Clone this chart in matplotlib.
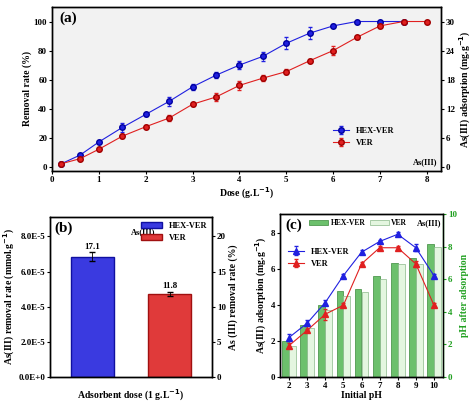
import matplotlib
matplotlib.use("Agg")
import matplotlib.pyplot as plt
import numpy as np

plt.rcParams['font.family'] = ['Liberation Serif', 'DejaVu Serif']
plt.rcParams['font.weight'] = 'bold'
plt.rcParams['axes.labelweight'] = 'bold'
plt.rcParams['font.size'] = 7
plt.rcParams['axes.linewidth'] = 1.0

dose = [0.2, 0.6, 1, 1.5, 2, 2.5, 3, 3.5, 4, 4.5, 5, 5.5, 6, 6.5, 7, 7.5]
hex_rr = [2, 8, 17, 27, 36, 45, 55, 63, 70, 76, 85, 92, 97, 100, 100, 100]
hex_err = [1, 1, 1, 3, 1, 3, 2, 2, 3, 3, 4, 4, 1, 0.5, 0.5, 0.5]
dose_v = [0.2, 0.6, 1, 1.5, 2, 2.5, 3, 3.5, 4, 4.5, 5, 5.5, 6, 6.5, 7, 7.5, 8]
ver_rr = [2, 5.5, 12, 21, 27.5, 33.5, 43, 48, 56, 61, 65.5, 73, 80, 89, 97, 100, 100]
ver_err = [1, 1, 1, 1.5, 1, 2, 1, 3, 3, 2, 2, 1, 3, 1, 1, 0.5, 0.5]

b_labels = ['HEX-VER', 'VER']
b_vals = [6.84e-5, 4.72e-5]
b_err = [0.25e-5, 0.12e-5]
b_pct = ['17.1', '11.8']

ph = [2, 3, 4, 5, 6, 7, 8, 9, 10]
hex_ads = [2.2, 3.0, 4.15, 5.65, 6.95, 7.55, 7.95, 7.2, 5.65]
hex_ads_err = [0.2, 0.15, 0.15, 0.1, 0.1, 0.1, 0.1, 0.2, 0.1]
ver_ads = [1.75, 2.6, 3.5, 4.0, 6.3, 7.2, 7.2, 6.3, 4.0]
ver_ads_err = [0.15, 0.1, 0.3, 0.1, 0.1, 0.1, 0.1, 0.15, 0.1]
hex_ph = [2.2, 3.2, 4.4, 5.3, 5.4, 6.2, 7.0, 7.3, 8.15]
ver_ph = [1.9, 3.0, 4.1, 5.0, 5.2, 6.0, 6.95, 6.95, 7.95]

fig = plt.figure(figsize=(4.74, 4.07), dpi=100)
W, H = 474, 407
def ax_at(x0, y0, x1, y1):
    return fig.add_axes([x0 / W, 1 - y1 / H, (x1 - x0) / W, (y1 - y0) / H])

# Panel a
a = ax_at(52, 7, 441, 171)
a.set_facecolor('#f2f2f2')
a.errorbar(dose, hex_rr, yerr=hex_err, color='#2020e0', marker='o', ms=4, lw=0.8, capsize=1.5, elinewidth=0.6,
           mec='#0000a0', label='HEX-VER')
a.errorbar(dose_v, ver_rr, yerr=ver_err, color='#e02020', marker='o', ms=4, lw=0.8, capsize=1.5, elinewidth=0.6,
           mec='#a00000', label='VER')
a.set_xlim(0, 8.3); a.set_ylim(-3, 110)
a.set_yticks(range(0, 101, 20)); a.set_xticks(range(0, 9))
a.set_xlabel('Dose (g.L$^{-1}$)', labelpad=1)
a.set_ylabel('Removal rate (%)', labelpad=1)
a.text(0.02, 0.97, '(a)', transform=a.transAxes, fontsize=11, fontweight='bold', va='top')
a.text(0.99, 0.03, 'As(III)', transform=a.transAxes, ha='right', va='bottom', fontsize=6)
a.legend(loc='lower right', bbox_to_anchor=(0.9, 0.1), frameon=False, fontsize=6)
a2 = a.twinx(); a2.set_ylim(-0.9, 33); a2.set_yticks(range(0, 31, 6))
a2.set_ylabel('As(III) adsorption (mg.g$^{-1}$)', labelpad=2)

# Panel b
b = ax_at(50, 217, 212, 377)
cols = ['#3a3ae0', '#e03a3a']
bars = b.bar([0, 1], b_vals, width=0.55, color=cols, edgecolor=['#1010a0', '#a01010'], yerr=b_err, capsize=2,
             error_kw=dict(elinewidth=0.6))
for i, t in enumerate(b_pct):
    b.text(i, b_vals[i] + b_err[i] + 0.1e-5, t, ha='center', va='bottom', fontsize=6.5)
b.set_xlim(-0.55, 1.55); b.set_ylim(0, 9.1e-5)
b.set_yticks(np.arange(0, 8.1e-5, 2e-5))
b.set_yticklabels(['0.0E+0', '2.0E-5', '4.0E-5', '6.0E-5', '8.0E-5'])
b.set_xticks([])
b.set_xlabel('Adsorbent dose (1 g.L$^{-1}$)', labelpad=8)
b.set_ylabel('As(III) removal rate (mmol.g$^{-1}$)', labelpad=1)
b.text(0.03, 0.97, '(b)', transform=b.transAxes, fontsize=11, fontweight='bold', va='top')
b.text(0.5, 0.93, 'As(III)', transform=b.transAxes, fontsize=6, va='top')
b.legend(bars, b_labels, loc='upper right', frameon=False, fontsize=6, handlelength=2.5, borderaxespad=0.2)
b2 = b.twinx(); b2.set_ylim(0, 22.75); b2.set_yticks(range(0, 21, 5))
b2.set_ylabel('As (III) removal rate (%)', labelpad=2)

# Panel c
c = ax_at(280, 214, 443, 377)
c2 = c.twinx()
x = np.array(ph)
w = 0.38
c2.bar(x - w / 2, hex_ph, width=w, color='#6cc06c', edgecolor='#3a8a3a', lw=0.5, label='HEX-VER')
c2.bar(x + w / 2, ver_ph, width=w, color='#e4f6e0', edgecolor='#8ab88a', lw=0.5, label='VER')
c2.set_ylim(0, 10); c2.set_yticks(range(0, 11, 2))
c2.set_ylabel('pH after adsorption', color='#20a020', labelpad=2)
c2.tick_params(axis='y', colors='#20a020')
c2.spines['right'].set_color('#20a020')
c2.legend(loc='upper center', bbox_to_anchor=(0.48, 1.01), ncol=2, frameon=False, fontsize=5.5, columnspacing=0.6,
          handlelength=2.5, handletextpad=0.3)
c.set_zorder(c2.get_zorder() + 1); c.patch.set_visible(False)
c.errorbar(ph, hex_ads, yerr=hex_ads_err, color='#2020e0', marker='^', ms=4, lw=0.8, capsize=1.5, elinewidth=0.6,
           label='HEX-VER')
c.errorbar(ph, ver_ads, yerr=ver_ads_err, color='#e02020', marker='^', ms=4, lw=0.8, capsize=1.5, elinewidth=0.6,
           label='VER')
c.set_xlim(1.5, 10.5); c.set_ylim(0, 9.08)
c.set_xticks(ph); c.set_yticks(range(0, 9, 2))
c.set_xlabel('Initial pH', labelpad=1)
c.set_ylabel('As(III) adsorption (mg.g$^{-1}$)', labelpad=1)
c.text(0.03, 0.97, '(c)', transform=c.transAxes, fontsize=11, fontweight='bold', va='top')
c.text(0.99, 0.97, 'As(III)', transform=c.transAxes, fontsize=6, va='top', ha='right')
c.legend(loc='upper left', bbox_to_anchor=(0.0, 0.84), frameon=False, fontsize=6)

for ax in [a, a2, b, b2, c, c2]:
    ax.tick_params(labelsize=6.5, length=2, pad=1.5)
    for t in ax.get_xticklabels() + ax.get_yticklabels():
        t.set_fontweight('bold')

fig.savefig('out.png', dpi=100)
